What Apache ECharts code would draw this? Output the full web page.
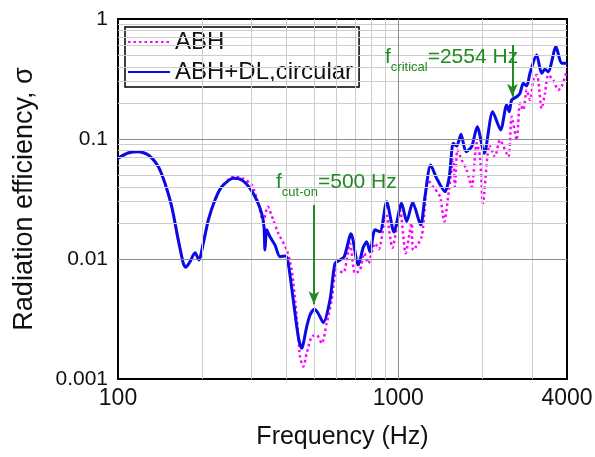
<!DOCTYPE html>
<html>
<head>
<meta charset="utf-8">
<script src="https://cdn.jsdelivr.net/npm/echarts@6.0.0/dist/echarts.min.js"></script>
<style>
  html, body { margin: 0; padding: 0; background: #fff; }
  #chart { width: 595px; height: 457px; }
</style>
</head>
<body>
<div id="chart"></div>
<script>
// ABH + damping layer, circular
var freqDL = [100, 108.6, 118.1, 128.3, 139.3, 147.1, 155.5, 164.1, 171, 174.4, 180.7, 188.3, 194.5, 201.5, 210, 221.8, 234.4,
  257.8, 276.3, 295.8, 312.6, 325.6, 331.8, 334.5, 339.3, 348.5, 363, 378.4, 396.6, 405.1, 422.1, 439.8, 452.3, 471.3, 484.2,
  501.5, 517, 540, 570.5, 594.7, 619.4, 641.7, 678.3, 719.9, 750, 771.4, 792.5, 826, 860.6, 908.9, 965.4, 1028, 1071.6, 1126,
  1202, 1245, 1305, 1371, 1468, 1521, 1571, 1616, 1674, 1744, 1828, 1913, 2027, 2172, 2319, 2436, 2489, 2539, 2646, 2718,
  2793, 2872, 2951, 3117, 3248, 3337, 3429, 3653, 3828, 4000]
var sigmaDL = [0.0691, 0.0764, 0.0784, 0.0736, 0.0588, 0.0427, 0.0273, 0.0144, 0.0092, 0.00853, 0.0095, 0.0113, 0.0098, 0.0135, 0.0211, 0.031, 0.040,
  0.047, 0.0455, 0.0388, 0.031, 0.024, 0.0186, 0.0119, 0.0175, 0.0153, 0.0131, 0.01045, 0.0106, 0.0092, 0.00455, 0.00225, 0.0018, 0.00273, 0.00341,
  0.00381, 0.00355, 0.00295, 0.00455, 0.0092, 0.0098, 0.01045, 0.0162, 0.0089, 0.0125, 0.0139, 0.0115, 0.0175, 0.0169, 0.030, 0.0168, 0.0291, 0.0205, 0.0295,
  0.0192, 0.033, 0.0607, 0.047, 0.0364, 0.0485, 0.092, 0.0874, 0.1094, 0.0784, 0.0862, 0.1266, 0.076, 0.1688, 0.1189, 0.192, 0.1688, 0.2113, 0.225, 0.240,
  0.291, 0.2765, 0.3527, 0.501, 0.3527, 0.381, 0.364, 0.588, 0.4276, 0.43]

// ABH only
var freqABH = [100, 108.6, 118.1, 128.3, 139.3, 147.1, 155.5, 164.1, 171, 174.4, 180.7, 188.3, 194.5, 201.5, 210, 221.8, 234.4,
  261.5, 279.2, 299.9, 316.7, 330, 342, 358.1, 373.2, 399.9, 416.7, 434.2, 446.2, 458.5, 471.3, 491, 511.6, 533.1, 555.4,
  578.7, 602.8, 636.5, 672.4, 701, 730.2, 756.3, 781.6, 826, 853.3, 903.8, 953.5, 1014, 1063, 1116, 1131, 1212, 1279, 1333,
  1409, 1459, 1517, 1571, 1593, 1626, 1684, 1754, 1828, 1905, 1957, 2005, 2116, 2213, 2306, 2469, 2539, 2646, 2718, 2793,
  2872, 2951, 3049, 3125, 3248, 3337, 3429, 3573, 3723, 3828, 4000]
var sigmaABH = [0.0691, 0.0764, 0.0784, 0.0736, 0.0588, 0.0427, 0.0273, 0.0144, 0.0092, 0.00853, 0.0095, 0.0113, 0.0098, 0.0135, 0.0211, 0.031, 0.040,
  0.0492, 0.0469, 0.0414, 0.0291, 0.0205, 0.0273, 0.0211, 0.0164, 0.0119, 0.0081, 0.0033, 0.00153, 0.00127, 0.00164, 0.00225, 0.00233, 0.00198, 0.00291,
  0.00455, 0.0081, 0.0077, 0.0135, 0.0076, 0.0081, 0.01116, 0.0092, 0.0135, 0.0121, 0.024, 0.0124, 0.0256, 0.01116, 0.0198, 0.0119, 0.0153, 0.0455, 0.040,
  0.033, 0.0205, 0.0376, 0.0668, 0.040, 0.081, 0.0668, 0.0552, 0.040, 0.0926, 0.0712, 0.0291, 0.0891, 0.0712, 0.098, 0.0712, 0.1535, 0.098, 0.1984, 0.1745,
  0.256, 0.2113, 0.3305, 0.3415, 0.180, 0.240, 0.3415, 0.310, 0.256, 0.273, 0.376]

var xTickLabels = [100, 1000, 4000]
var xMajorGrid = [1000]
var xMinorGrid = [200, 300, 400, 500, 600, 700, 800, 900, 2000, 3000]
var yMajorGrid = [0.1, 0.01]
var yMinorGrid = [0.9, 0.8, 0.7, 0.6, 0.5, 0.4, 0.3, 0.2,
  0.09, 0.08, 0.07, 0.06, 0.05, 0.04, 0.03, 0.02,
  0.009, 0.008, 0.007, 0.006, 0.005, 0.004, 0.003, 0.002]

var fCutOn = 500
var fCritical = 2554
var GREEN = '#218a21'
var FONT = 'Liberation Sans, Arial, sans-serif'

function pairs(xs, ys) {
  return xs.map(function (x, i) { return [x, ys[i]] })
}

var gridLines = []
xMinorGrid.forEach(function (v) { gridLines.push({ xAxis: v, lineStyle: { color: '#cdcdcd' } }) })
yMinorGrid.forEach(function (v) { gridLines.push({ yAxis: v, lineStyle: { color: '#cdcdcd' } }) })
xMajorGrid.forEach(function (v) { gridLines.push({ xAxis: v, lineStyle: { color: '#8c8c8c' } }) })
yMajorGrid.forEach(function (v) { gridLines.push({ yAxis: v, lineStyle: { color: '#8c8c8c' } }) })

var chart = echarts.init(document.getElementById('chart'))
chart.setOption({
  animation: false,
  textStyle: { fontFamily: FONT },
  grid: {
    left: 118, right: 28, top: 19, bottom: 78,
    show: true, borderColor: '#000', borderWidth: 2,
    outerBoundsMode: 'none'
  },
  legend: {
    data: ['ABH', 'ABH+DL,circular'],
    orient: 'vertical',
    left: 125, top: 27,
    padding: [3, 6, 3, 2],
    itemWidth: 42, itemHeight: 14, itemGap: 6,
    itemStyle: { opacity: 0 },
    borderColor: '#000', borderWidth: 1.5,
    textStyle: { fontSize: 24, color: '#111', fontFamily: FONT }
  },
  xAxis: {
    type: 'log', logBase: 10, min: 100, max: 4000,
    name: 'Frequency (Hz)', nameLocation: 'middle', nameGap: 46,
    nameTextStyle: { fontSize: 25, color: '#111', fontFamily: FONT },
    axisLine: { show: true, lineStyle: { color: '#000', width: 2 } },
    axisTick: { show: false },
    splitLine: { show: false },
    axisLabel: {
      customValues: xTickLabels,
      fontSize: 23, color: '#111', margin: 8,
      formatter: function (v) { return String(Math.round(v)) }
    }
  },
  yAxis: {
    type: 'log', logBase: 10, min: 0.001, max: 1,
    name: 'Radiation efficiency, σ', nameLocation: 'middle', nameGap: 80,
    nameTextStyle: { fontSize: 27, color: '#111', fontFamily: FONT },
    axisLine: { show: true, lineStyle: { color: '#000', width: 2 } },
    axisTick: { show: false },
    splitLine: { show: false },
    axisLabel: {
      fontSize: 21, color: '#111', margin: 10,
      formatter: function (v) { return String(+(+v).toPrecision(3)) }
    }
  },
  series: [
    {
      type: 'line', data: [], z: 1, silent: true,
      markLine: {
        silent: true, symbol: 'none', animation: false,
        label: { show: false },
        lineStyle: { type: 'solid', width: 1 },
        data: gridLines
      }
    },
    {
      name: 'ABH', type: 'line', z: 3,
      data: pairs(freqABH, sigmaABH),
      symbol: 'none', smooth: 0.25,
      itemStyle: { color: '#ff00ff' },
      lineStyle: { color: '#ff00ff', width: 2.5, type: [2.5, 3] }
    },
    {
      name: 'ABH+DL,circular', type: 'line', z: 4,
      data: pairs(freqDL, sigmaDL),
      symbol: 'none', smooth: 0.25,
      itemStyle: { color: '#0a0ae6' },
      lineStyle: { color: '#0a0ae6', width: 3 }
    },
    {
      type: 'line', data: [], z: 6, silent: true,
      markLine: {
        silent: true, animation: false,
        symbol: ['none', 'arrow'], symbolSize: [8, 13],
        label: { show: false },
        lineStyle: { color: GREEN, width: 2, type: 'solid' },
        data: [
          [{ coord: [fCutOn, 0.0282] }, { coord: [fCutOn, 0.0042] }],
          [{ coord: [fCritical, 0.607] }, { coord: [fCritical, 0.225] }]
        ]
      }
    }
  ]
})

function annotation(left, top, sub, rest) {
  return {
    type: 'text', left: left, top: top, z: 10,
    style: {
      text: '{a|f}{b|' + sub + '}{a|' + rest + '}',
      rich: {
        a: { fontSize: 21, lineHeight: 24, fill: GREEN, fontFamily: FONT, verticalAlign: 'top' },
        b: { fontSize: 13, lineHeight: 13, fill: GREEN, fontFamily: FONT, verticalAlign: 'top', padding: [14, 0, 0, 0] }
      }
    }
  }
}

chart.setOption({
  graphic: [
    annotation(276, 172, 'cut-on', '=500 Hz'),
    annotation(385, 47, 'critical', '=2554 Hz')
  ]
})
</script>
</body>
</html>
